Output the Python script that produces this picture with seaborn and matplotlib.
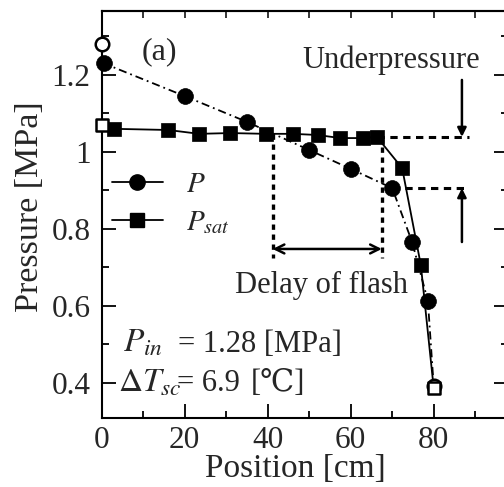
import matplotlib
matplotlib.use("Agg")
import matplotlib.pyplot as plt
from matplotlib.lines import Line2D
from matplotlib.ticker import MultipleLocator, FuncFormatter
import seaborn as sns
import pandas as pd

# Measured pressure along the nozzle (interior taps)
pos_p = [0.5, 20, 35, 50, 60, 70, 74.8, 78.6]
pressure = [1.23, 1.145, 1.078, 1.005, 0.956, 0.906, 0.766, 0.613]

# Saturation pressure from local temperature
pos_psat = [3, 16, 23.5, 31, 39.5, 46, 52, 57.5, 63, 66.3, 72.4, 76.9]
psat = [1.06, 1.057, 1.047, 1.049, 1.047, 1.047, 1.044, 1.036, 1.036, 1.039, 0.958, 0.706]

# Inlet / outlet boundary values (open symbols)
pos_in, pos_out = 0, 80
p_in, p_out = 1.28, 0.392
psat_in, psat_out = 1.07, 0.387

# Annotation levels
under_hi, under_lo = 1.039, 0.906
delay_start, delay_end = 41.2, 67.5

sns.set_theme(style="ticks")
plt.rcParams["font.family"] = ["Liberation Serif", "DejaVu Serif", "DejaVu Sans"]
plt.rcParams["mathtext.fontset"] = "stix"
FS = 22.5   # tick labels
AFS = 22    # annotations

fig = plt.figure(figsize=(5.04, 4.87), dpi=100)
ax = fig.add_axes([101.7 / 504, 69 / 487, 98 * 4.15 / 504, 407 / 487])

line_p = pd.DataFrame({"x": [pos_in] + pos_p + [pos_out],
                       "y": [p_in] + pressure + [p_out]})
line_s = pd.DataFrame({"x": [pos_in] + pos_psat + [pos_out],
                       "y": [psat_in] + psat + [psat_out]})

sns.lineplot(data=line_p, x="x", y="y", ax=ax, sort=False, color="black",
             lw=1.3, linestyle=(0, (4.5, 2.2, 1.0, 2.2)), zorder=2)
sns.lineplot(data=line_s, x="x", y="y", ax=ax, sort=False, color="black",
             lw=1.3, zorder=2)

sns.scatterplot(x=pos_p, y=pressure, ax=ax, marker="o", s=130,
                color="black", edgecolor="black", linewidth=0.5, zorder=4,
                clip_on=False)
sns.scatterplot(x=pos_psat, y=psat, ax=ax, marker="s", s=110,
                color="black", edgecolor="black", linewidth=0.5, zorder=4,
                clip_on=False)
sns.scatterplot(x=[pos_in, pos_out], y=[p_in, p_out], ax=ax, marker="o", s=95,
                facecolor="white", edgecolor="black", linewidth=1.8, zorder=5,
                clip_on=False)
sns.scatterplot(x=[pos_in, pos_out], y=[psat_in, psat_out], ax=ax, marker="s", s=85,
                facecolor="white", edgecolor="black", linewidth=1.8, zorder=5,
                clip_on=False)

ax.set_xlim(0, 98)
ax.set_ylim(0.309, 1.366)

# Axis styling
for side in ["left", "bottom", "top", "right"]:
    ax.spines[side].set_linewidth(1.5)
    ax.spines[side].set_color("black")
ax.xaxis.set_major_locator(MultipleLocator(20))
ax.xaxis.set_minor_locator(MultipleLocator(10))
ax.yaxis.set_major_locator(MultipleLocator(0.2))
ax.yaxis.set_minor_locator(MultipleLocator(0.1))
ax.yaxis.set_major_formatter(FuncFormatter(lambda v, _: f"{v:g}"))
ax.tick_params(which="both", direction="in", left=True, bottom=True, right=True,
               top=False, width=1.3, color="black", labelsize=FS)
ax.tick_params(which="major", length=10)
ax.tick_params(which="minor", length=5)
ax.tick_params(axis="y", pad=8)
ax.tick_params(axis="x", pad=6)

top = ax.secondary_xaxis("top")
top.set_xticks(list(range(0, 100, 10)))
top.tick_params(direction="in", length=5, width=1.3, labeltop=False)
top.spines["top"].set_linewidth(1.5)

ax.set_xlabel("Position [cm]", fontsize=24)
ax.set_ylabel("Pressure [MPa]", fontsize=24.5)
ax.xaxis.set_label_coords(0.475, -0.088)
ax.yaxis.set_label_coords(-0.14, 0.518)

# Legend with solid line samples
handles = [Line2D([], [], color="black", lw=1.3, marker="o", markersize=11),
           Line2D([], [], color="black", lw=1.3, marker="s", markersize=10)]
ax.legend(handles, ["$P$", "$P_{sat}$"], loc="upper left",
          bbox_to_anchor=(0.025, 0.605), frameon=False, fontsize=21,
          handlelength=1.75, handletextpad=0.8, labelspacing=0.38,
          borderpad=0, borderaxespad=0)

# Panel tag
ax.text(14.0, 1.26, "(a)", fontsize=AFS + 1, ha="center", va="center")

# Underpressure marker
ax.text(69.7, 1.238, "Underpressure", fontsize=AFS, ha="center", va="center")
dash = (0, (2.4, 1.8))
ax.plot([66.3, 88.5], [under_hi, under_hi], color="black", lw=2.2, linestyle=dash, zorder=1)
ax.plot([70, 88.5], [under_lo, under_lo], color="black", lw=2.2, linestyle=dash, zorder=1)
ax.annotate("", xy=(86.8, under_hi), xytext=(86.8, 1.187),
            arrowprops=dict(arrowstyle="-|>", lw=1.8, color="black",
                            mutation_scale=13, shrinkA=0, shrinkB=0))
ax.annotate("", xy=(86.8, under_lo), xytext=(86.8, 0.766),
            arrowprops=dict(arrowstyle="-|>", lw=1.8, color="black",
                            mutation_scale=13, shrinkA=0, shrinkB=0))

# Flash delay marker
dot = (0, (1.6, 1.4))
ax.plot([delay_start, delay_start], [1.047, 0.725], color="black", lw=2.4, linestyle=dot, zorder=1)
ax.plot([delay_end, delay_end], [1.039, 0.725], color="black", lw=2.4, linestyle=dot, zorder=1)
ax.annotate("", xy=(delay_start, 0.748), xytext=(delay_end, 0.748),
            arrowprops=dict(arrowstyle="<->", lw=1.8, color="black",
                            mutation_scale=16, shrinkA=0, shrinkB=0))
ax.text(52.9, 0.634, "Delay of flash", fontsize=AFS, ha="center", va="baseline")

# Operating conditions
ax.text(5.1, 0.4805, "$P_{in}$", fontsize=AFS + 2, ha="left", va="baseline")
ax.text(18.4, 0.4805, "= 1.28 [MPa]", fontsize=AFS, ha="left", va="baseline")
ax.text(4.0, 0.379, r"$\Delta T_{sc}$", fontsize=AFS + 2, ha="left", va="baseline")
ax.text(18.2, 0.379, "= 6.9", fontsize=AFS, ha="left", va="baseline")
ax.text(36.0, 0.379, "[℃]", fontsize=AFS, ha="left", va="baseline",
        family=["Liberation Serif", "DejaVu Serif", "DejaVu Sans"])

fig.savefig("out.png", dpi=100)
